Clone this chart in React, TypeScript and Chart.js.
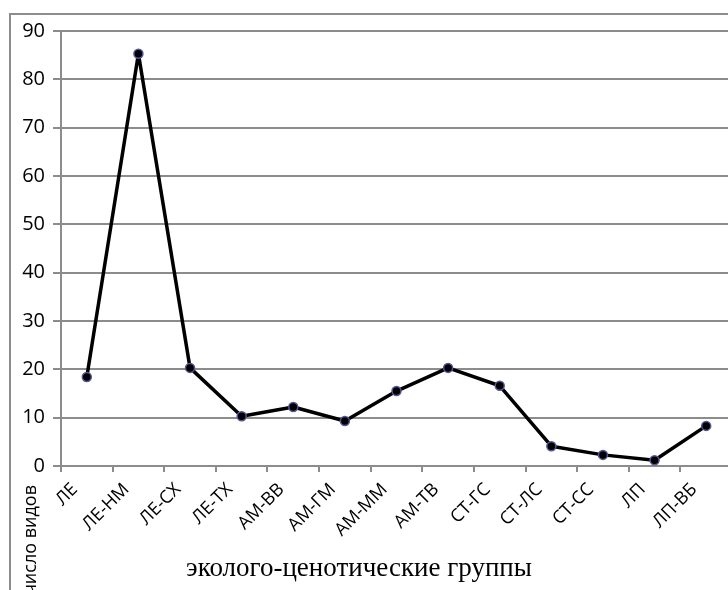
import React, { useEffect, useRef } from "react";
import { Chart, registerables } from "chart.js";

Chart.register(...registerables);

// Ecological-coenotic groups and the number of species in each
const groups = [
  "ЛЕ", "ЛЕ-НМ", "ЛЕ-СХ", "ЛЕ-ТХ", "АМ-ВВ", "АМ-ГМ", "АМ-ММ",
  "АМ-ТВ", "СТ-ГС", "СТ-ЛС", "СТ-СС", "ЛП", "ЛП-ВБ",
];
const speciesCount = [18.4, 85.3, 20.3, 10.3, 12.2, 9.3, 15.5, 20.3, 16.6, 4.1, 2.3, 1.2, 8.3];

const yMin = 0;
const yMax = 90;
const yStep = 10;

const xTitle = "эколого-ценотические группы";
const yTitle = "число видов";

const GRID = "#8c8c8c";

const titlesPlugin = {
  id: "cornerTitles",
  afterDraw(chart: any) {
    const { ctx } = chart;
    ctx.save();
    ctx.fillStyle = "#000";
    ctx.font = "27px 'Liberation Serif', 'Times New Roman', serif";
    ctx.textAlign = "center";
    ctx.textBaseline = "alphabetic";
    ctx.fillText(xTitle, 348, 561);

    ctx.translate(20, 470);
    ctx.rotate(-Math.PI / 2);
    ctx.font = "18px 'Open Sans', sans-serif";
    ctx.textAlign = "right";
    ctx.textBaseline = "middle";
    ctx.fillText(yTitle, 0, 0);
    ctx.restore();
  },
};

export default function App() {
  const canvasRef = useRef<HTMLCanvasElement | null>(null);

  useEffect(() => {
    if (!canvasRef.current) return;
    const chart = new Chart(canvasRef.current, {
      type: "line",
      data: {
        labels: groups,
        datasets: [
          {
            data: speciesCount,
            borderColor: "#000",
            borderWidth: 3.5,
            borderJoinStyle: "round",
            tension: 0,
            clip: false,
            pointRadius: 4.5,
            pointBackgroundColor: "#000",
            pointBorderColor: "#55559a",
            pointBorderWidth: 1.5,
          },
        ],
      },
      options: {
        responsive: false,
        animation: false,
        events: [],
        layout: { autoPadding: false, padding: { top: 16, right: 19, left: 0, bottom: 0 } },
        plugins: { legend: { display: false }, tooltip: { enabled: false } },
        scales: {
          x: {
            type: "category",
            offset: true,
            grid: {
              offset: true,
              drawOnChartArea: false,
              drawTicks: true,
              tickLength: 6,
              color: GRID,
              lineWidth: 2,
            },
            border: { display: true, color: GRID, width: 2 },
            ticks: {
              autoSkip: false,
              minRotation: 45,
              maxRotation: 45,
              labelOffset: -12,
              padding: 7,
              color: "#000",
              font: { family: "'Open Sans', sans-serif", size: 18 },
            },
            afterFit(scale: any) {
              scale.height = 149;
              scale.paddingLeft = 0;
              scale.paddingRight = 0;
            },
          },
          y: {
            min: yMin,
            max: yMax,
            ticks: {
              stepSize: yStep,
              padding: 8,
              color: "#000",
              font: { family: "'Open Sans', sans-serif", size: 20 },
            },
            grid: { color: GRID, lineWidth: 2, tickLength: 8 },
            border: { display: true, color: GRID, width: 2 },
            afterFit(scale: any) {
              scale.width = 50;
              scale.paddingTop = 0;
              scale.paddingBottom = 0;
            },
          },
        },
      },
      plugins: [titlesPlugin],
    });
    return () => chart.destroy();
  }, []);

  return (
    <div
      style={{
        position: "absolute",
        left: 0,
        top: 0,
        width: 728,
        height: 590,
        overflow: "hidden",
        background: "#fff",
      }}
    >
      <div
        style={{
          position: "absolute",
          left: 9,
          top: 13,
          width: 740,
          height: 600,
          border: `2px solid ${GRID}`,
        }}
      >
        <canvas ref={canvasRef} width={740} height={600} style={{ display: "block" }} />
      </div>
    </div>
  );
}
